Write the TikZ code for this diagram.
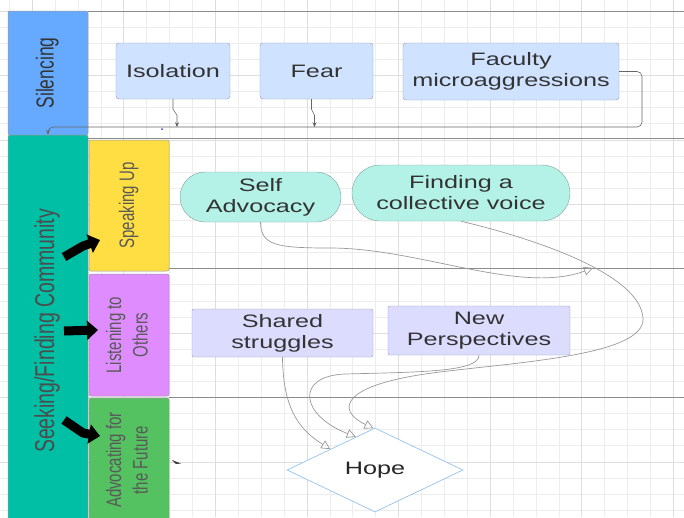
\documentclass[tikz,border=0pt]{standalone}
\usepackage{fontspec}
\usepackage{graphicx}
\setmainfont{Liberation Sans}
\newfontfamily\boxfont[FakeStretch=1.4]{Liberation Sans}
\usetikzlibrary{arrows.meta,shapes.geometric}
\definecolor{silblue}{RGB}{102,170,255}
\definecolor{seekteal}{RGB}{0,191,165}
\definecolor{speakyel}{RGB}{255,222,68}
\definecolor{listenpur}{RGB}{222,140,255}
\definecolor{advgreen}{RGB}{84,194,96}
\definecolor{probfill}{RGB}{207,226,255}
\definecolor{probline}{RGB}{140,155,180}
\definecolor{voicefill}{RGB}{180,242,232}
\definecolor{voiceline}{RGB}{130,160,155}
\definecolor{sharefill}{RGB}{220,220,255}
\definecolor{shareline}{RGB}{155,155,190}
\definecolor{hopeline}{RGB}{150,195,240}
\newcommand{\vlabel}[1]{\scalebox{1}[1.4]{\begin{tabular}{@{}c@{}}#1\end{tabular}}}

\begin{document}
\begin{tikzpicture}[x=1pt,y=-1pt,
  gridln/.style={draw=black!7,line width=0.6pt},
  gridmaj/.style={draw=black!13,line width=0.6pt},
  laneline/.style={draw=black!45,line width=1pt},
  lane/.style={draw=black!40,line width=0.5pt,rounded corners=2pt,rotate=90,
    inner sep=0pt,minimum height=80pt,text=black!75},
  prob/.style={draw=probline,fill=probfill,rounded corners=3pt,align=center,
    inner sep=0pt,text=black!80,font=\boxfont\fontsize{18}{21}\selectfont},
  voice/.style={prob,draw=voiceline,fill=voicefill,rounded corners=25pt},
  share/.style={prob,draw=shareline,fill=sharefill,rounded corners=2pt},
  hope/.style={diamond,draw=hopeline,fill=white,line width=0.7pt,inner sep=0pt,
    minimum width=176pt,minimum height=84pt,text=black!85,
    font=\boxfont\fontsize{18}{21}\selectfont},
  stub/.style={draw=black!60,line width=0.6pt,-{Stealth[length=5pt,width=4pt]}},
  flow/.style={draw=black!40,line width=0.7pt,-{Triangle[open,length=9pt,width=9pt]}},
  push/.style={line width=9pt,line join=round,-{Triangle[length=11pt,width=19pt]}}]
\useasboundingbox (0,0) rectangle (684,517);
% grid
\foreach \k in {0,...,29} \draw[gridln] ({9.2+22.9*\k},0) -- ({9.2+22.9*\k},517);
\foreach \k in {0,...,31} \draw[gridln] (0,{11+16.1*\k}) -- (684,{11+16.1*\k});
\foreach \k in {0,...,7} \draw[gridmaj] ({32.1+91.6*\k},0) -- ({32.1+91.6*\k},517);
\foreach \k in {0,...,7} \draw[gridmaj] (0,{11+64.4*\k}) -- (684,{11+64.4*\k});
% lanes
\draw[laneline] (88,11) -- (684,11);
\draw[laneline] (88,138.5) -- (684,138.5);
\draw[laneline] (169,268) -- (684,268);
\draw[laneline] (169,397) -- (684,397);
\node[lane,fill=silblue,minimum width=124pt,text=black!80,
  font=\fontsize{17.5}{20}\selectfont] (sil) at (48,73) {\vlabel{Silencing}};
\node[lane,fill=seekteal,minimum width=392pt,text=black!70,
  font=\fontsize{19.5}{22}\selectfont] (seek) at (48,331) {\vlabel{Seeking/Finding Community}};
\node[lane,fill=speakyel,minimum width=131pt,font=\fontsize{15}{18}\selectfont,
  text=black!65] (speak) at (129,205.5) {\vlabel{Speaking Up}};
\node[lane,fill=listenpur,minimum width=122pt,font=\fontsize{15}{19}\selectfont,
  text=black!65] (listen) at (129,335) {\vlabel{Listening to\\Others}};
\node[lane,fill=advgreen,minimum width=124pt,font=\fontsize{15}{19}\selectfont,
  text=black!65] (advoc) at (129,460) {\vlabel{Advocating for\\the Future}};
% silencing
\node[prob,minimum width=114pt,minimum height=56pt] (iso) at (173,71) {Isolation};
\node[prob,minimum width=113pt,minimum height=56pt] (fear) at (316.5,71) {Fear};
\node[prob,minimum width=216pt,minimum height=57pt] (fac) at (511,71.5) {Faculty\\microaggressions};
\coordinate (facturn) at (642,127);
\draw[stub] (iso.south) -- ++(0,10) -- ++(4,6) -- ++(0,12);
\draw[stub] ([xshift=-5pt]fear.south) -- ++(0,10) -- ++(3,6) -- ++(0,12);
\draw[stub,rounded corners=5pt] (fac.east) -| (facturn) -| (seek.east);
\fill[blue!80] (162,129) circle (1pt);
% community
\node[voice,minimum width=161pt,minimum height=50pt] (selfadv) at (260.5,197) {Self\\Advocacy};
\node[voice,minimum width=218pt,minimum height=56pt,rounded corners=28pt] (collect) at (461,193) {Finding a\\collective voice};
\node[share,minimum width=181pt,minimum height=48pt] (shared) at (282.5,333) {Shared\\struggles};
\node[share,minimum width=182pt,minimum height=49pt] (newp) at (479,330.5) {New\\Perspectives};
\node[hope] (hope) at (375,470) {Hope};
\coordinate (voicein) at (593,268);
\draw[flow] (selfadv.south) .. controls (261,245) and (275,248) .. (330,248)
  .. controls (420,248) and (520,295) .. (voicein);
\draw[flow] (collect.south) .. controls (540,240) and (640,275) .. (643,318)
  .. controls (646,355) and (520,362) .. (440,372)
  .. controls (340,384) and (335,410) .. (hope.92);
\draw[flow] (newp.south) .. controls (479,372) and (420,372) .. (345,374)
  .. controls (295,376) and (300,415) .. (hope.120);
\draw[flow] (shared.south) .. controls (283,410) and (300,430) .. (hope.155);
% block arrows
\draw[push] (64,257) -- (83,246) -- (100,240);
\draw[push] (64,331) -- (98,330);
\draw[push] (64,420) -- (83,433) -- (100,436);
\fill[black!75] (172,460) -- (181,463.5) -- (176,464) -- cycle;
\end{tikzpicture}
\end{document}
